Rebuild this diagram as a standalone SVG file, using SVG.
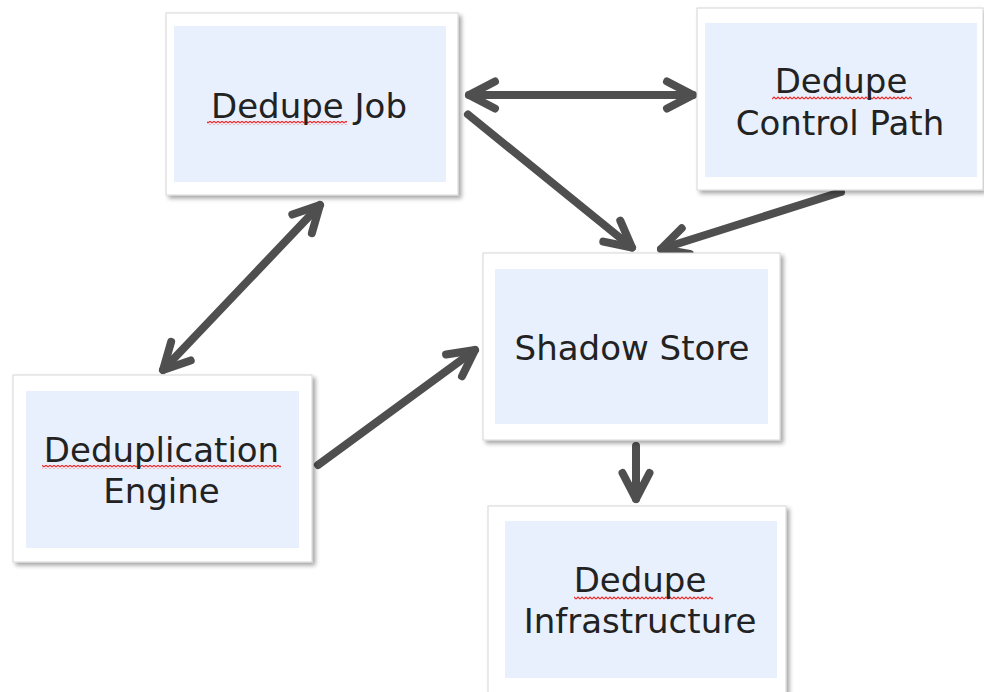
<svg xmlns="http://www.w3.org/2000/svg" width="984" height="692" viewBox="0 0 984 692">
  <style>
    .frame { fill: #ffffff; stroke: #d6d6d6; stroke-width: 1; filter: url(#shadow); }
    .panel { fill: #e7f0fc; }
    .label { font-family: "DejaVu Sans", Verdana, sans-serif; font-size: 34px; fill: #222222; text-anchor: middle; }
    .squiggle { fill: url(#wave); }
    .link { fill: none; stroke: #4f4f4f; stroke-width: 8; stroke-linecap: round; }
    .one { marker-end: url(#head); }
    .both { marker-start: url(#head); marker-end: url(#head); }
  </style>
  <defs>
    <filter id="shadow" x="-10%" y="-10%" width="125%" height="125%">
      <feDropShadow dx="3" dy="3" stdDeviation="2" flood-color="#000000" flood-opacity="0.35"/>
    </filter>
    <pattern id="wave" x="0" y="0" width="4" height="4" patternUnits="userSpaceOnUse">
      <path d="M0,3 L2,1 L4,3" fill="none" stroke="#f02828" stroke-width="1.2"/>
    </pattern>
    <marker id="head" viewBox="-40 -20 44 40" markerWidth="44" markerHeight="40" refX="0" refY="0"
            markerUnits="userSpaceOnUse" orient="auto-start-reverse" overflow="visible">
      <path d="M-26,-13.5 L0,0 L-26,13.5" fill="none" stroke="#4f4f4f" stroke-width="8"
            stroke-linecap="round" stroke-linejoin="round"/>
    </marker>
  </defs>

  <rect width="984" height="692" fill="#ffffff"/>

  <g id="connectors">
    <line class="link both" x1="469" y1="95" x2="693" y2="95"/>
    <line class="link one" x1="468" y1="114.5" x2="632" y2="247.5"/>
    <line class="link one" x1="841" y1="192" x2="661" y2="249"/>
    <line class="link both" x1="320" y1="205" x2="163" y2="370"/>
    <line class="link one" x1="318" y1="465" x2="475" y2="350"/>
    <line class="link one" x1="636" y1="446" x2="636" y2="499"/>
  </g>

  <g id="dedupe-job">
    <rect class="frame" x="166" y="13" width="292" height="182"/>
    <rect class="panel" x="174" y="26" width="272" height="156"/>
    <rect class="squiggle" x="207" y="121" width="140" height="4"/>
    <text class="label" x="309" y="118">Dedupe Job</text>
  </g>

  <g id="dedupe-control-path">
    <rect class="frame" x="697" y="8" width="286" height="182"/>
    <rect class="panel" x="705" y="23" width="272" height="154"/>
    <rect class="squiggle" x="772" y="96" width="140" height="4"/>
    <text class="label" x="841" y="93">Dedupe</text>
    <text class="label" x="840" y="135">Control Path</text>
  </g>

  <g id="shadow-store">
    <rect class="frame" x="483" y="253" width="297" height="187"/>
    <rect class="panel" x="495" y="269" width="273" height="155"/>
    <text class="label" x="632" y="360">Shadow Store</text>
  </g>

  <g id="deduplication-engine">
    <rect class="frame" x="13" y="375" width="299" height="187"/>
    <rect class="panel" x="26" y="391" width="273" height="157"/>
    <rect class="squiggle" x="42" y="465" width="239" height="4"/>
    <text class="label" x="161.5" y="462">Deduplication</text>
    <text class="label" x="161.5" y="503">Engine</text>
  </g>

  <g id="dedupe-infrastructure">
    <rect class="frame" x="488" y="506" width="298" height="200"/>
    <rect class="panel" x="505" y="521" width="272" height="157"/>
    <rect class="squiggle" x="574" y="596" width="139" height="4"/>
    <text class="label" x="640" y="592">Dedupe</text>
    <text class="label" x="640" y="633">Infrastructure</text>
  </g>
</svg>
